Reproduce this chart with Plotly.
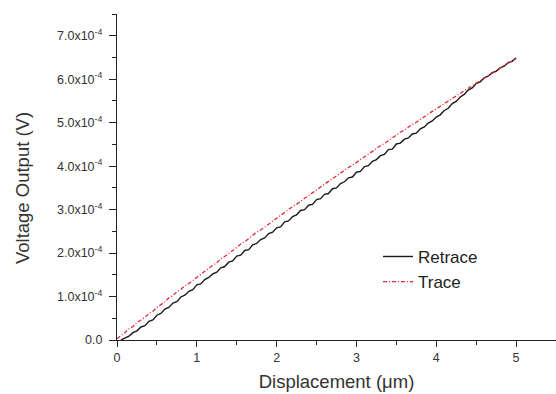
import plotly.graph_objects as go

x_vals = [0.00, 0.05, 0.10, 0.15, 0.20, 0.25, 0.30, 0.35, 0.40, 0.45,
          0.50, 0.55, 0.60, 0.65, 0.70, 0.75, 0.80, 0.85, 0.90, 0.95,
          1.00, 1.05, 1.10, 1.15, 1.20, 1.25, 1.30, 1.35, 1.40, 1.45,
          1.50, 1.55, 1.60, 1.65, 1.70, 1.75, 1.80, 1.85, 1.90, 1.95,
          2.00, 2.05, 2.10, 2.15, 2.20, 2.25, 2.30, 2.35, 2.40, 2.45,
          2.50, 2.55, 2.60, 2.65, 2.70, 2.75, 2.80, 2.85, 2.90, 2.95,
          3.00, 3.05, 3.10, 3.15, 3.20, 3.25, 3.30, 3.35, 3.40, 3.45,
          3.50, 3.55, 3.60, 3.65, 3.70, 3.75, 3.80, 3.85, 3.90, 3.95,
          4.00, 4.05, 4.10, 4.15, 4.20, 4.25, 4.30, 4.35, 4.40, 4.45,
          4.50, 4.55, 4.60, 4.65, 4.70, 4.75, 4.80, 4.85, 4.90, 4.95,
          5.00]

# values in units of 1e-4 V
trace_vals = [0.03, 0.09, 0.17, 0.26, 0.31, 0.40, 0.46, 0.52, 0.61, 0.66,
              0.75, 0.81, 0.88, 0.97, 1.02, 1.11, 1.16, 1.25, 1.30, 1.37,
              1.45, 1.51, 1.58, 1.66, 1.72, 1.78, 1.87, 1.92, 2.00, 2.06,
              2.13, 2.21, 2.26, 2.34, 2.40, 2.48, 2.53, 2.60, 2.67, 2.74,
              2.80, 2.87, 2.94, 3.00, 3.07, 3.12, 3.20, 3.26, 3.32, 3.39,
              3.46, 3.51, 3.58, 3.65, 3.71, 3.78, 3.84, 3.90, 3.97, 4.02,
              4.09, 4.16, 4.22, 4.28, 4.34, 4.41, 4.47, 4.52, 4.59, 4.65,
              4.71, 4.78, 4.83, 4.90, 4.96, 5.01, 5.08, 5.13, 5.20, 5.26,
              5.32, 5.37, 5.44, 5.49, 5.56, 5.61, 5.67, 5.74, 5.79, 5.85,
              5.91, 5.96, 6.02, 6.09, 6.14, 6.19, 6.25, 6.31, 6.37, 6.42,
              6.48]

retrace_vals = [None, 0.00, 0.05, 0.09, 0.17, 0.21, 0.30, 0.33, 0.43, 0.46,
                0.57, 0.61, 0.71, 0.75, 0.85, 0.88, 0.99, 1.03, 1.12, 1.16,
                1.27, 1.29, 1.39, 1.44, 1.52, 1.56, 1.66, 1.69, 1.79, 1.82,
                1.93, 1.95, 2.06, 2.08, 2.19, 2.22, 2.31, 2.35, 2.45, 2.48,
                2.58, 2.60, 2.72, 2.74, 2.84, 2.88, 2.98, 3.00, 3.10, 3.12,
                3.23, 3.25, 3.35, 3.37, 3.48, 3.50, 3.60, 3.64, 3.73, 3.75,
                3.86, 3.88, 3.99, 4.01, 4.11, 4.15, 4.24, 4.27, 4.38, 4.39,
                4.51, 4.53, 4.62, 4.65, 4.74, 4.76, 4.86, 4.90, 4.99, 5.04,
                5.13, 5.18, 5.28, 5.33, 5.44, 5.49, 5.59, 5.65, 5.75, 5.80,
                5.90, 5.94, 6.03, 6.07, 6.15, 6.18, 6.26, 6.30, 6.38, 6.41,
                6.49]

y_tick_vals = [0.0, 1.0, 2.0, 3.0, 4.0, 5.0, 6.0, 7.0]
y_tick_text = ["0.0"] + [f"{v:.1f}x10<sup>-4</sup>" for v in y_tick_vals[1:]]
x_tick_vals = [0, 1, 2, 3, 4, 5]

FONT = "Liberation Sans, Arial, sans-serif"
scale = 1e-4
fig = go.Figure()
fig.add_trace(go.Scatter(
    x=x_vals, y=[v * scale if v is not None else None for v in retrace_vals],
    mode="lines", name="Retrace",
    line=dict(color="#1a1a1a", width=1.4),
))
fig.add_trace(go.Scatter(
    x=x_vals, y=[v * scale for v in trace_vals],
    mode="lines", name="Trace",
    line=dict(color="#e02a35", width=1.3, dash="4px,2px,1px,2px"),
))

fig.update_layout(
    width=556, height=394,
    margin=dict(l=117, r=0, t=14, b=54),
    paper_bgcolor="white", plot_bgcolor="white",
    font=dict(family=FONT, color="#333333"),
    showlegend=True,
    legend=dict(x=0.5945, y=0.31, xanchor="left", yanchor="top",
                bgcolor="rgba(0,0,0,0)", font=dict(size=17, color="#222222", family=FONT),
                itemwidth=30, tracegroupgap=0),
    xaxis=dict(
        range=[0, 5.5], tickvals=x_tick_vals, showgrid=False, zeroline=False,
        showline=True, linecolor="#222222", linewidth=1.3,
        ticks="outside", ticklen=6, tickwidth=1.3, tickcolor="#222222",
        minor=dict(dtick=0.5, ticks="outside", ticklen=4, tickwidth=1.2, tickcolor="#222222"),
        tickfont=dict(size=12.5, color="#333333", family=FONT),
        title=dict(text="Displacement (μm)", font=dict(size=18.5, color="#333333", family=FONT), standoff=10),
    ),
    yaxis=dict(
        range=[0, 7.5e-4], tickvals=[v * scale for v in y_tick_vals], ticktext=y_tick_text,
        showgrid=False, zeroline=False,
        showline=True, linecolor="#222222", linewidth=1.3,
        ticks="outside", ticklen=7, tickwidth=1.3, tickcolor="#222222",
        minor=dict(dtick=0.5e-4, ticks="outside", ticklen=4, tickwidth=1.2, tickcolor="#222222"),
        tickfont=dict(size=12.5, color="#333333", family=FONT),
        ticklabelstandoff=4,
    ),
    annotations=[dict(
        text="Voltage Output (V)", textangle=-90, showarrow=False,
        xref="paper", yref="paper", x=-0.2164, y=0.466,
        xanchor="center", yanchor="middle",
        font=dict(size=18.5, color="#333333", family=FONT),
    )],
)

fig.write_html("out.html")
